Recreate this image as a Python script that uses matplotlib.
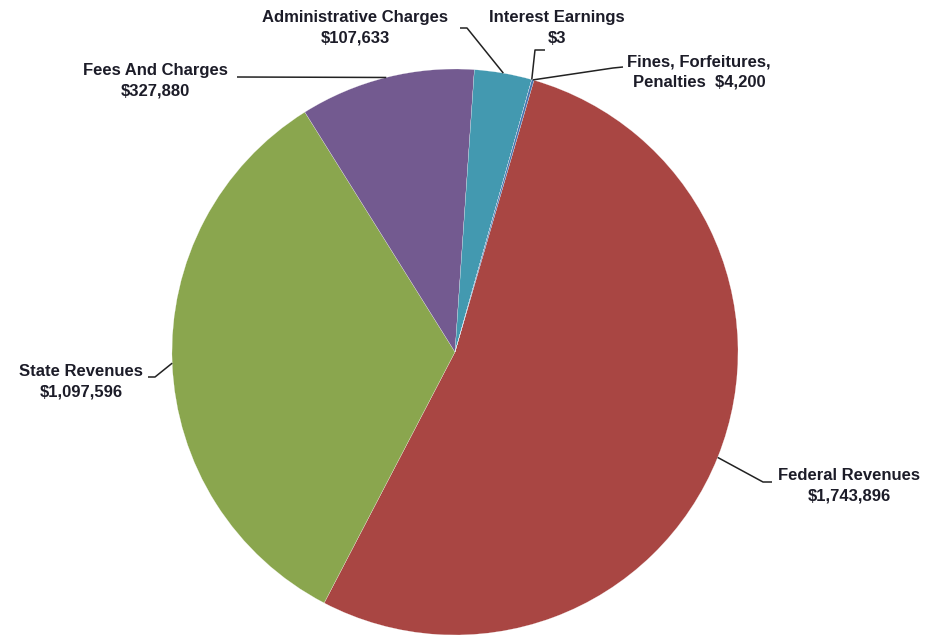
import numpy as np
import matplotlib.pyplot as plt

categories = ['Federal Revenues', 'State Revenues', 'Fees And Charges',
              'Administrative Charges', 'Interest Earnings', 'Fines, Forfeitures,\nPenalties']
values = [1743896, 1097596, 327880, 107633, 3, 4200]
colors = ['#A94643', '#8AA64E', '#735A90', '#4399B0', '#D98A3E', '#4673AE']

W, H = 940, 635
CX, CY, R = 455, 352, 283


def py(y):
    """pixel row (from top) -> data y"""
    return H - y


fig = plt.figure(figsize=(9.4, 6.35), dpi=100)
ax = fig.add_axes([0, 0, 1, 1])

start = 73.8
wedges, _ = ax.pie(values, colors=colors, startangle=start, counterclock=False,
                   center=(CX, py(CY)), radius=R, frame=True,
                   wedgeprops=dict(edgecolor='white', linewidth=0.15))
ax.set_xlim(0, W)
ax.set_ylim(0, H)
ax.set_aspect('equal')
ax.axis('off')


def edge_point(i):
    w = wedges[i]
    mid = np.deg2rad((w.theta1 + w.theta2) / 2)
    return CX + R * np.cos(mid), py(CY) + R * np.sin(mid)


# label text centre (pixel coords), then leader path points from label side
labels = [
    ((849, 486), [(772, 482), (763, 482)]),
    ((81, 382), [(148, 377), (155, 377)]),
    ((155, 81), [(237, 77)]),
    ((355, 28), [(460, 28), (467, 28)]),
    ((557, 28), [(545, 50), (535, 50)]),
    ((699, 72), [(623, 67), (613, 68)]),
]
for i, (name, val) in enumerate(zip(categories, values)):
    if i == 5:
        txt = 'Fines, Forfeitures,\nPenalties  ${:,}'.format(val)
    else:
        txt = '{}\n${:,}'.format(name, val)
    (tx, ty), path = labels[i]
    ax.text(tx, py(ty), txt, ha='center', va='center', fontsize=12,
            fontweight='bold', family='Liberation Sans', color='#1c1c28',
            linespacing=1.42)
    ex, ey = edge_point(i)
    xs = [p[0] for p in path] + [ex]
    ys = [py(p[1]) for p in path] + [ey]
    ax.plot(xs, ys, color='#222222', lw=1.1, solid_capstyle='butt')

fig.savefig('out.png', dpi=100)
